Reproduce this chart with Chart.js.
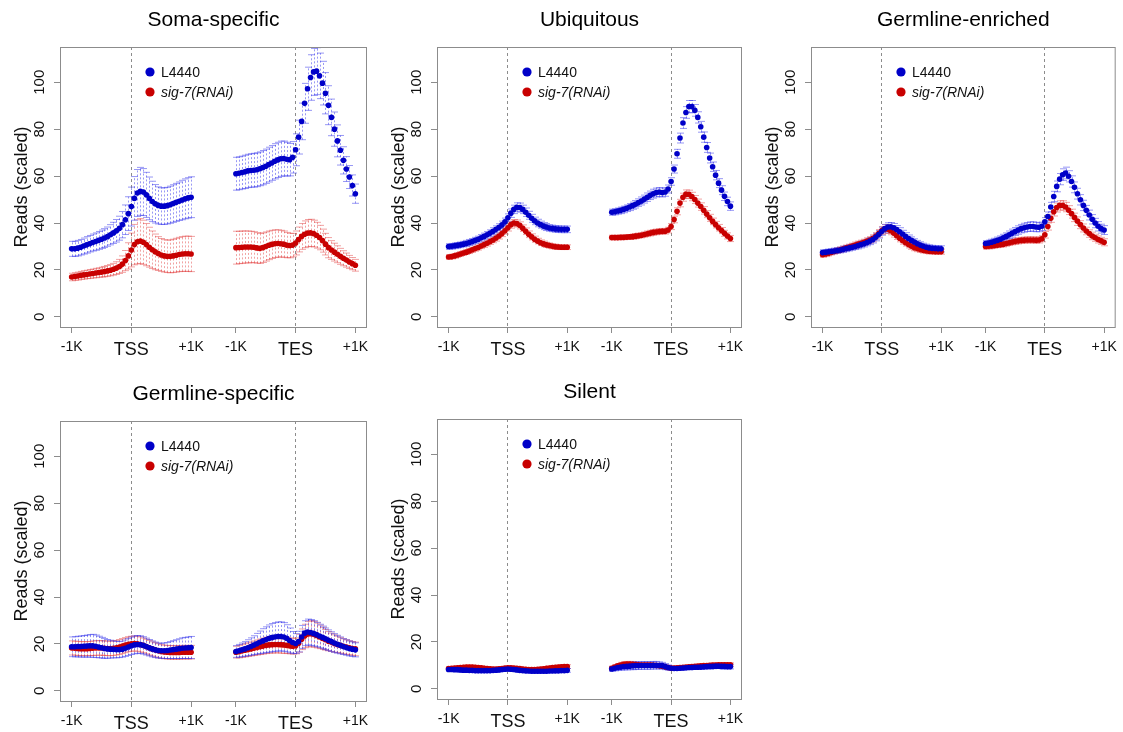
<!DOCTYPE html>
<html>
<head>
<meta charset="utf-8">
<script src="https://cdn.jsdelivr.net/npm/chart.js@4.4.1/dist/chart.umd.min.js"></script>
<style>
  html, body { margin: 0; padding: 0; background: #fff; overflow: hidden; }
  body { width: 1123px; height: 732px; position: relative; }
  canvas { position: absolute; }
  #p1 { left: 0;     top: 0; }
  #p2 { left: 377px; top: 0; }
  #p3 { left: 751px; top: 0; }
  #p4 { left: 0;     top: 374px; }
  #p5 { left: 377px; top: 372px; }
</style>
</head>
<body>
<canvas id="p1" width="375" height="370"></canvas>
<canvas id="p2" width="373" height="370"></canvas>
<canvas id="p3" width="372" height="370"></canvas>
<canvas id="p4" width="375" height="358"></canvas>
<canvas id="p5" width="373" height="360"></canvas>
<script>
"use strict";

const FONT = "'Liberation Sans', Arial, Helvetica, sans-serif";

// 50 bp bins from -1K to +1K around each anchor
const bins = Array.from({ length: 41 }, (_, i) => -1000 + 50 * i);
const TES_AT = 2750; // TES window is placed after the TSS window on one axis
const xTickValues = [-1000, 0, 1000, 1750, 2750, 3750];
const xTickLabels = ["-1K", "TSS", "+1K", "-1K", "TES", "+1K"];
const yTicks = [0, 20, 40, 60, 80, 100];
const seriesNames = ["L4440", "sig-7(RNAi)"];

// ---- Soma-specific ----
const somaL4440Tss = [29.0,29.0,29.3,29.7,30.2,30.7,31.2,31.7,32.1,32.6,33.1,33.6,34.2,35.0,35.8,36.7,37.8,39.3,41.4,44.0,47.0,50.5,52.8,53.5,53.2,52.0,50.5,49.2,48.2,47.5,47.2,47.2,47.4,47.8,48.3,48.8,49.3,49.8,50.3,50.7,51.0];
const somaL4440Tes = [61.0,61.2,61.5,61.8,62.2,62.4,62.5,62.7,63.1,63.6,64.2,64.9,65.6,66.3,66.9,67.4,67.5,67.2,67.0,68.0,71.2,76.6,83.3,91.0,97.2,102.0,104.4,104.7,102.7,99.6,95.3,90.2,85.0,80.0,75.0,71.0,66.7,63.0,59.6,56.0,52.5];
const somaSig7Tss = [17.0,17.2,17.4,17.7,17.9,18.1,18.3,18.5,18.7,18.9,19.1,19.3,19.6,19.9,20.3,20.8,21.5,22.5,24.0,26.0,28.5,30.8,32.0,32.3,31.8,30.8,29.7,28.6,27.7,27.0,26.4,26.0,25.8,25.8,26.0,26.3,26.6,26.8,26.9,26.9,26.8];
const somaSig7Tes = [29.5,29.6,29.7,29.8,29.8,29.8,29.7,29.4,29.2,29.5,30.0,30.5,30.9,31.2,31.3,31.2,31.0,30.6,30.4,30.6,31.5,33.0,34.3,35.2,35.7,35.8,35.5,34.8,33.8,32.5,31.0,29.5,28.5,27.6,26.7,25.8,25.0,24.2,23.4,22.7,22.0];
const somaL4440TssErr = [3.2,3.2,3.3,3.3,3.4,3.5,3.5,3.6,3.7,3.8,3.9,4.0,4.1,4.3,4.5,4.8,5.1,5.6,6.3,7.2,8.3,9.3,10.0,10.2,10.0,9.6,9.1,8.6,8.2,7.9,7.8,7.8,7.8,7.9,8.0,8.1,8.2,8.4,8.5,8.6,8.7];
const somaL4440TesErr = [7.0,7.0,7.0,7.1,7.1,7.1,7.2,7.2,7.2,7.3,7.3,7.4,7.4,7.5,7.5,7.5,7.4,7.2,6.9,6.7,6.8,7.2,7.8,8.5,9.2,9.7,10.0,10.0,9.7,9.3,8.8,8.3,7.8,7.3,6.8,6.3,5.8,5.3,4.9,4.5,4.1];
const somaSig7TssErr = [1.6,1.6,1.7,1.7,1.8,1.8,1.9,1.9,2.0,2.0,2.1,2.2,2.3,2.4,2.5,2.7,3.0,3.5,4.3,5.6,7.2,8.6,9.4,9.6,9.4,9.0,8.5,8.0,7.6,7.2,7.0,6.9,6.9,7.0,7.1,7.2,7.3,7.4,7.5,7.5,7.5];
const somaSig7TesErr = [7.0,6.9,6.9,6.8,6.8,6.7,6.6,6.5,6.4,6.3,6.2,6.1,6.0,5.9,5.8,5.7,5.6,5.4,5.2,5.0,5.1,5.3,5.5,5.7,5.8,5.8,5.7,5.5,5.2,4.9,4.6,4.3,4.0,3.8,3.6,3.4,3.2,3.0,2.8,2.6,2.5];

// ---- Ubiquitous ----
const ubiqL4440Tss = [30.0,30.1,30.3,30.5,30.7,31.0,31.3,31.7,32.1,32.6,33.1,33.7,34.3,35.0,35.7,36.5,37.3,38.2,39.2,40.5,42.2,44.2,45.8,46.7,46.6,45.8,44.6,43.3,42.0,40.9,40.0,39.3,38.7,38.3,37.9,37.7,37.5,37.4,37.3,37.3,37.3];
const ubiqL4440Tes = [44.6,44.8,45.1,45.4,45.8,46.3,46.8,47.4,48.0,48.7,49.4,50.2,51.0,51.8,52.5,53.0,53.2,53.0,53.2,54.5,57.7,63.0,69.5,76.2,82.6,87.1,89.6,89.6,88.0,85.0,81.0,76.6,72.2,67.7,64.0,60.4,57.0,54.0,51.4,49.2,47.2];
const ubiqSig7Tss = [25.5,25.7,26.0,26.4,26.8,27.2,27.6,28.1,28.6,29.1,29.6,30.2,30.8,31.4,32.1,32.8,33.6,34.5,35.5,36.7,38.0,39.3,40.0,39.8,39.0,37.8,36.5,35.2,34.1,33.1,32.3,31.6,31.1,30.7,30.4,30.1,29.9,29.8,29.7,29.7,29.7];
const ubiqSig7Tes = [33.8,33.8,33.8,33.9,33.9,34.0,34.1,34.2,34.4,34.6,34.8,35.1,35.4,35.7,36.0,36.2,36.4,36.5,36.5,37.0,38.5,41.5,45.0,48.5,51.0,52.3,52.2,51.3,50.0,48.5,47.0,45.4,43.8,42.2,40.7,39.3,38.0,36.8,35.6,34.5,33.4];
const ubiqL4440TssErr = [1.2,1.2,1.2,1.2,1.2,1.2,1.3,1.3,1.3,1.3,1.3,1.4,1.4,1.4,1.4,1.5,1.5,1.5,1.6,1.6,1.7,1.8,1.8,1.9,1.9,1.8,1.8,1.7,1.7,1.6,1.6,1.5,1.5,1.5,1.4,1.4,1.4,1.4,1.4,1.4,1.4];
const ubiqL4440TesErr = [1.3,1.3,1.3,1.4,1.4,1.4,1.5,1.5,1.6,1.6,1.7,1.7,1.8,1.8,1.9,1.9,1.9,1.9,1.8,1.7,1.6,1.7,1.9,2.1,2.3,2.5,2.6,2.6,2.5,2.4,2.3,2.2,2.1,2.1,2.0,2.0,1.9,1.9,1.8,1.8,1.8];
const ubiqSig7TssErr = [1.0,1.0,1.0,1.0,1.0,1.0,1.0,1.1,1.1,1.1,1.1,1.1,1.2,1.2,1.2,1.2,1.3,1.3,1.3,1.4,1.4,1.5,1.5,1.5,1.5,1.4,1.4,1.4,1.3,1.3,1.2,1.2,1.2,1.1,1.1,1.1,1.1,1.0,1.0,1.0,1.0];
const ubiqSig7TesErr = [1.0,1.0,1.0,1.0,1.0,1.0,1.0,1.1,1.1,1.1,1.1,1.1,1.2,1.2,1.2,1.2,1.2,1.2,1.2,1.2,1.3,1.4,1.5,1.6,1.7,1.8,1.8,1.8,1.7,1.7,1.6,1.6,1.5,1.5,1.4,1.4,1.4,1.3,1.3,1.3,1.3];

// ---- Germline-enriched ----
const germL4440Tss = [27.4,27.5,27.7,27.9,28.1,28.3,28.5,28.8,29.1,29.4,29.7,30.0,30.4,30.8,31.2,31.7,32.3,33.0,34.0,35.2,36.5,37.6,38.3,38.4,38.0,37.2,36.3,35.3,34.3,33.4,32.6,31.9,31.2,30.6,30.1,29.7,29.4,29.2,29.1,29.0,29.0];
const germL4440Tes = [31.3,31.5,31.8,32.2,32.6,33.1,33.7,34.3,35.0,35.7,36.4,37.0,37.6,38.0,38.3,38.5,38.5,38.3,38.2,38.6,40.5,42.8,46.8,51.3,55.6,58.7,60.6,61.3,59.9,57.7,55.2,52.5,49.9,47.5,45.4,43.4,41.6,40.0,38.6,37.6,37.0];
const germSig7Tss = [26.5,26.8,27.1,27.5,27.9,28.3,28.6,29.0,29.4,29.8,30.2,30.6,31.0,31.4,31.8,32.3,32.8,33.5,34.4,35.6,36.8,37.5,37.4,36.7,35.7,34.6,33.5,32.5,31.6,30.8,30.1,29.5,29.1,28.7,28.4,28.2,28.0,27.9,27.8,27.8,27.8];
const germSig7Tes = [30.0,30.1,30.2,30.4,30.6,30.8,31.0,31.3,31.6,31.9,32.2,32.4,32.6,32.7,32.8,32.8,32.8,32.7,32.8,33.3,35.0,38.5,42.0,44.8,46.6,47.5,47.5,46.8,45.5,44.0,42.4,40.8,39.3,37.9,36.6,35.5,34.5,33.7,33.0,32.4,31.8];
const germL4440TssErr = [1.2,1.2,1.2,1.2,1.2,1.2,1.2,1.3,1.3,1.3,1.3,1.3,1.4,1.4,1.4,1.4,1.5,1.5,1.6,1.6,1.7,1.8,1.8,1.8,1.8,1.7,1.7,1.6,1.6,1.5,1.5,1.4,1.4,1.4,1.3,1.3,1.3,1.3,1.3,1.3,1.3];
const germL4440TesErr = [1.2,1.2,1.3,1.3,1.4,1.4,1.5,1.5,1.6,1.7,1.7,1.8,1.8,1.9,1.9,2.0,2.0,2.0,1.9,1.8,1.8,1.9,2.0,2.2,2.3,2.4,2.5,2.5,2.4,2.4,2.3,2.3,2.2,2.2,2.1,2.1,2.0,2.0,2.0,1.9,1.9];
const germSig7TssErr = [1.1,1.1,1.1,1.1,1.1,1.1,1.2,1.2,1.2,1.2,1.2,1.3,1.3,1.3,1.3,1.4,1.4,1.5,1.5,1.6,1.7,1.8,1.8,1.7,1.7,1.6,1.5,1.5,1.4,1.4,1.3,1.3,1.3,1.2,1.2,1.2,1.2,1.1,1.1,1.1,1.1];
const germSig7TesErr = [1.1,1.1,1.1,1.1,1.1,1.2,1.2,1.2,1.2,1.2,1.3,1.3,1.3,1.3,1.3,1.3,1.3,1.3,1.3,1.3,1.4,1.5,1.7,1.8,1.9,2.0,2.0,2.0,1.9,1.9,1.8,1.8,1.7,1.7,1.6,1.6,1.6,1.5,1.5,1.5,1.5];

// ---- Germline-specific ----
const gspecL4440Tss = [18.8,18.8,18.9,18.9,19.0,19.1,19.2,19.2,19.0,18.7,18.4,18.1,17.9,17.8,17.7,17.6,17.6,17.8,18.2,18.7,19.2,19.6,19.8,19.7,19.4,18.9,18.4,17.9,17.5,17.2,17.1,17.1,17.2,17.4,17.6,17.8,18.0,18.2,18.3,18.4,18.5];
const gspecL4440Tes = [16.8,17.1,17.5,17.9,18.4,18.9,19.5,20.1,20.7,21.3,21.8,22.3,22.7,23.0,23.2,23.2,23.0,22.4,21.5,20.6,20.2,21.0,23.0,24.6,25.1,24.9,24.5,24.0,23.4,22.8,22.2,21.6,21.0,20.4,19.9,19.4,18.9,18.5,18.1,17.8,17.5];
const gspecSig7Tss = [18.3,18.2,18.1,18.0,18.0,18.0,18.1,18.2,18.3,18.3,18.3,18.2,18.1,18.1,18.2,18.4,18.7,19.1,19.5,19.9,20.1,20.2,20.1,19.8,19.4,18.9,18.4,17.9,17.5,17.1,16.8,16.6,16.5,16.4,16.4,16.4,16.4,16.5,16.5,16.5,16.5];
const gspecSig7Tes = [16.5,16.7,17.0,17.3,17.6,17.9,18.2,18.5,18.8,19.1,19.4,19.6,19.7,19.8,19.8,19.7,19.6,19.4,19.2,19.0,19.2,20.3,22.0,23.4,24.2,24.4,24.1,23.6,23.0,22.4,21.8,21.2,20.7,20.2,19.8,19.4,19.0,18.7,18.4,18.1,17.9];
const gspecL4440TssErr = [4.2,4.3,4.4,4.5,4.6,4.7,4.8,4.9,4.8,4.6,4.4,4.2,4.0,3.8,3.6,3.5,3.4,3.4,3.5,3.6,3.7,3.8,3.8,3.8,3.7,3.6,3.5,3.4,3.3,3.2,3.2,3.3,3.4,3.6,3.8,4.0,4.2,4.4,4.5,4.6,4.7];
const gspecL4440TesErr = [2.5,2.7,2.9,3.1,3.4,3.7,4.0,4.4,4.8,5.2,5.5,5.8,6.0,6.1,6.2,6.2,6.1,5.8,5.3,4.7,4.2,4.4,4.9,5.3,5.5,5.5,5.4,5.2,5.0,4.8,4.6,4.4,4.2,4.0,3.8,3.6,3.4,3.3,3.2,3.1,3.0];
const gspecSig7TssErr = [3.0,3.0,3.0,3.0,3.0,3.0,3.0,3.1,3.1,3.1,3.1,3.1,3.1,3.1,3.1,3.1,3.2,3.2,3.2,3.2,3.2,3.2,3.2,3.2,3.1,3.1,3.1,3.0,3.0,3.0,2.9,2.9,2.9,2.9,2.9,2.9,2.9,2.9,2.9,2.9,2.9];
const gspecSig7TesErr = [2.5,2.6,2.7,2.8,2.9,3.0,3.1,3.2,3.3,3.4,3.5,3.5,3.6,3.6,3.6,3.6,3.6,3.5,3.4,3.3,3.4,3.8,4.4,5.0,5.4,5.6,5.5,5.3,5.0,4.7,4.4,4.1,3.9,3.7,3.5,3.3,3.2,3.1,3.0,2.9,2.9];

// ---- Silent ----
const silentL4440Tss = [8.3,8.3,8.2,8.2,8.1,8.0,8.0,7.9,7.9,7.8,7.8,7.8,7.8,7.8,7.8,7.9,8.0,8.1,8.3,8.4,8.5,8.4,8.3,8.1,7.9,7.8,7.7,7.6,7.5,7.5,7.5,7.5,7.5,7.5,7.6,7.6,7.7,7.7,7.8,7.8,7.9];
const silentL4440Tes = [8.5,8.8,9.1,9.3,9.5,9.6,9.7,9.8,9.9,9.9,10.0,10.0,10.0,10.0,10.1,10.1,10.0,9.9,9.5,9.1,8.8,8.7,8.7,8.8,8.9,9.0,9.1,9.1,9.2,9.2,9.3,9.4,9.5,9.6,9.6,9.7,9.7,9.6,9.6,9.5,9.5];
const silentSig7Tss = [8.7,8.8,8.9,9.0,9.1,9.2,9.3,9.3,9.3,9.2,9.1,9.0,8.8,8.7,8.6,8.5,8.5,8.6,8.7,8.9,9.0,9.0,8.9,8.8,8.7,8.5,8.4,8.3,8.3,8.3,8.4,8.5,8.6,8.8,8.9,9.1,9.2,9.3,9.4,9.5,9.5];
const silentSig7Tes = [8.8,9.3,9.8,10.2,10.5,10.6,10.6,10.5,10.4,10.3,10.2,10.2,10.2,10.2,10.1,10.0,9.9,9.7,9.4,9.1,8.9,8.9,9.0,9.1,9.2,9.3,9.4,9.5,9.6,9.7,9.8,9.9,10.0,10.1,10.2,10.2,10.3,10.3,10.3,10.3,10.3];
const silentL4440TssErr = [0.8,0.8,0.8,0.8,0.9,0.9,0.9,0.9,0.9,0.9,0.9,0.9,0.9,0.9,0.8,0.8,0.8,0.8,0.8,0.8,0.8,0.8,0.8,0.8,0.8,0.8,0.8,0.8,0.8,0.7,0.7,0.7,0.7,0.7,0.7,0.7,0.7,0.7,0.8,0.8,0.8];
const silentL4440TesErr = [1.0,1.1,1.2,1.3,1.4,1.5,1.5,1.6,1.6,1.6,1.6,1.6,1.6,1.6,1.6,1.6,1.5,1.4,1.3,1.1,0.9,0.8,0.8,0.8,0.8,0.8,0.8,0.8,0.9,0.9,0.9,0.9,1.0,1.0,1.0,1.0,1.0,1.0,1.0,1.0,1.0];
const silentSig7TssErr = [0.7,0.7,0.7,0.7,0.7,0.8,0.8,0.8,0.8,0.8,0.8,0.8,0.8,0.7,0.7,0.7,0.7,0.7,0.7,0.7,0.7,0.7,0.7,0.7,0.7,0.7,0.7,0.7,0.7,0.7,0.7,0.7,0.7,0.7,0.8,0.8,0.8,0.8,0.8,0.8,0.8];
const silentSig7TesErr = [0.9,1.0,1.0,1.1,1.1,1.1,1.1,1.1,1.0,1.0,1.0,1.0,1.0,1.0,1.0,0.9,0.9,0.9,0.8,0.8,0.7,0.7,0.7,0.7,0.7,0.7,0.7,0.7,0.8,0.8,0.8,0.8,0.8,0.8,0.8,0.8,0.8,0.8,0.8,0.8,0.8];

const panels = [
  { id: "p1", title: "Soma-specific", l4440: [somaL4440Tss, somaL4440Tes], sig7: [somaSig7Tss, somaSig7Tes],
    l4440Err: [somaL4440TssErr, somaL4440TesErr], sig7Err: [somaSig7TssErr, somaSig7TesErr], axisH: 43, padRight: 8 },
  { id: "p2", title: "Ubiquitous", l4440: [ubiqL4440Tss, ubiqL4440Tes], sig7: [ubiqSig7Tss, ubiqSig7Tes],
    l4440Err: [ubiqL4440TssErr, ubiqL4440TesErr], sig7Err: [ubiqSig7TssErr, ubiqSig7TesErr], axisH: 43, padRight: 8 },
  { id: "p3", title: "Germline-enriched", l4440: [germL4440Tss, germL4440Tes], sig7: [germSig7Tss, germSig7Tes],
    l4440Err: [germL4440TssErr, germL4440TesErr], sig7Err: [germSig7TssErr, germSig7TesErr], axisH: 43, padRight: 6 },
  { id: "p4", title: "Germline-specific", l4440: [gspecL4440Tss, gspecL4440Tes], sig7: [gspecSig7Tss, gspecSig7Tes],
    l4440Err: [gspecL4440TssErr, gspecL4440TesErr], sig7Err: [gspecSig7TssErr, gspecSig7TesErr], axisH: 31, padRight: 8 },
  { id: "p5", title: "Silent", l4440: [silentL4440Tss, silentL4440Tes], sig7: [silentSig7Tss, silentSig7Tes],
    l4440Err: [silentL4440TssErr, silentL4440TesErr], sig7Err: [silentSig7TssErr, silentSig7TesErr], axisH: 33, padRight: 8 },
];

const blue = "#0000c8", red = "#c80000";
const blueErr = "rgba(50,50,235,0.5)", redErr = "rgba(225,50,50,0.45)";

function points([tss, tes]) {
  return bins.map((b, i) => ({ x: b, y: tss[i] }))
    .concat(bins.map((b, i) => ({ x: TES_AT + b, y: tes[i] })));
}

// dashed vertical error bars with small caps, drawn under the points
const errorBars = {
  id: "errorBars",
  beforeDatasetsDraw(chart) {
    const { ctx, chartArea: a, scales: { x, y } } = chart;
    ctx.save();
    ctx.beginPath();
    ctx.rect(a.left, a.top, a.right - a.left, a.bottom - a.top);
    ctx.clip();
    ctx.lineWidth = 1;
    for (let d = chart.data.datasets.length - 1; d >= 0; d--) {
      const ds = chart.data.datasets[d];
      ctx.strokeStyle = ds.errColor;
      ds.data.forEach((p, i) => {
        const px = Math.round(x.getPixelForValue(p.x)) + 0.5;
        const hi = y.getPixelForValue(p.y + ds.err[i]);
        const lo = y.getPixelForValue(p.y - ds.err[i]);
        ctx.setLineDash([2, 2]);
        ctx.beginPath();
        ctx.moveTo(px, lo);
        ctx.lineTo(px, hi);
        ctx.stroke();
        ctx.setLineDash([]);
        ctx.beginPath();
        ctx.moveTo(px - 3.5, hi); ctx.lineTo(px + 3.5, hi);
        ctx.moveTo(px - 3.5, lo); ctx.lineTo(px + 3.5, lo);
        ctx.stroke();
      });
    }
    ctx.restore();
  },
};

// plot box, title and the in-plot legend
function panelDecor(title) {
  return {
    id: "panelDecor",
    afterDraw(chart) {
      const { ctx, chartArea: a } = chart;
      ctx.save();
      ctx.strokeStyle = "#8c8c8c";
      ctx.lineWidth = 1;
      ctx.strokeRect(a.left + 0.5, a.top + 0.5, a.right - a.left - 1, a.bottom - a.top);

      ctx.fillStyle = "#000";
      ctx.font = "21px " + FONT;
      ctx.textAlign = "center";
      ctx.textBaseline = "middle";
      ctx.fillText(title, (a.left + a.right) / 2, a.top - 27);

      const lx = a.left + 90, ly = a.top + 25;
      [blue, red].forEach((c, k) => {
        const yy = ly + 20 * k;
        ctx.fillStyle = c;
        ctx.beginPath();
        ctx.arc(lx, yy, 4.6, 0, Math.PI * 2);
        ctx.fill();
        ctx.fillStyle = "#111";
        ctx.font = (k === 1 ? "italic " : "") + "14px " + FONT;
        ctx.textAlign = "left";
        ctx.fillText(seriesNames[k], lx + 11, yy + 1);
      });
      ctx.restore();
    },
  };
}

panels.forEach((p) => {
  new Chart(document.getElementById(p.id), {
    type: "scatter",
    data: {
      datasets: [
        { label: seriesNames[0], data: points(p.l4440), err: p.l4440Err[0].concat(p.l4440Err[1]),
          errColor: blueErr, pointBackgroundColor: blue, pointBorderWidth: 0, pointRadius: 2.8 },
        { label: seriesNames[1], data: points(p.sig7), err: p.sig7Err[0].concat(p.sig7Err[1]),
          errColor: redErr, pointBackgroundColor: red, pointBorderWidth: 0, pointRadius: 2.8 },
      ],
    },
    options: {
      responsive: false,
      animation: false,
      events: [],
      layout: { padding: { top: 47, right: p.padRight, left: 0, bottom: 0 } },
      plugins: { legend: { display: false }, tooltip: { enabled: false } },
      scales: {
        x: {
          type: "linear",
          min: -1195,
          max: 3945,
          afterBuildTicks: (s) => { s.ticks = xTickValues.map((v) => ({ value: v })); },
          afterFit: (s) => { s.height = p.axisH; },
          ticks: {
            autoSkip: false,
            maxRotation: 0,
            padding: 6,
            color: "#111",
            font: (c) => ({ family: FONT, size: c.tick && (c.tick.value === 0 || c.tick.value === TES_AT) ? 18 : 14 }),
            callback: (v, i) => xTickLabels[i],
          },
          grid: {
            color: (c) => (c.tick && (c.tick.value === 0 || c.tick.value === TES_AT) ? "#8c8c8c" : "rgba(0,0,0,0)"),
            tickColor: "#8c8c8c",
            tickLength: 6,
            tickBorderDash: [],
          },
          border: { display: false, dash: [3, 3] },
        },
        y: {
          min: -4.3,
          max: 115,
          afterBuildTicks: (s) => { s.ticks = yTicks.map((v) => ({ value: v })); },
          afterFit: (s) => { s.width = 60; },
          ticks: {
            minRotation: 90,
            maxRotation: 90,
            crossAlign: "center",
            padding: 2,
            color: "#111",
            font: { family: FONT, size: 15 },
          },
          grid: { drawOnChartArea: false, tickLength: 6, color: "#8c8c8c" },
          border: { display: false },
          title: {
            display: true,
            text: "Reads (scaled)",
            color: "#111",
            font: { family: FONT, size: 18 },
            padding: { top: 11, bottom: 0 },
          },
        },
      },
    },
    plugins: [errorBars, panelDecor(p.title)],
  });
});
</script>
</body>
</html>
